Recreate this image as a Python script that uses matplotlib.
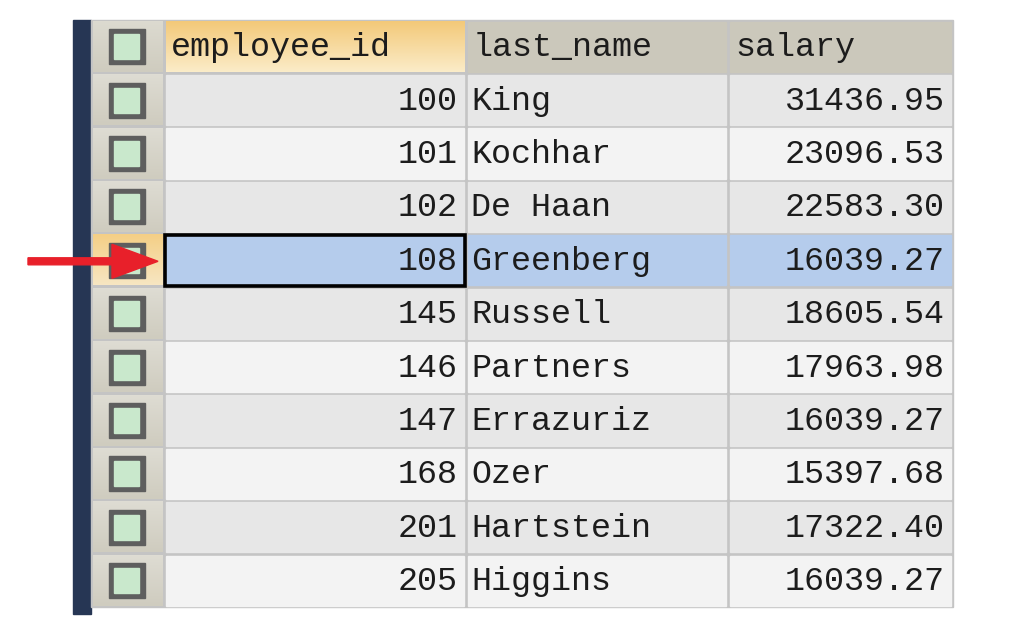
import matplotlib.pyplot as plt
from matplotlib.patches import Rectangle, FancyArrow
import numpy as np

# table data
columns = ["employee_id", "last_name", "salary"]
employee_ids = [100, 101, 102, 108, 145, 146, 147, 168, 201, 205]
last_names = ["King", "Kochhar", "De Haan", "Greenberg", "Russell",
              "Partners", "Errazuriz", "Ozer", "Hartstein", "Higgins"]
salaries = ["31436.95", "23096.53", "22583.30", "16039.27", "18605.54",
            "17963.98", "16039.27", "15397.68", "17322.40", "16039.27"]
selected_row = 3

# layout (pixel coords)
W, H = 1012, 634
col_edges = [91, 164, 466, 728, 953]
top, row_h = 20, 53.4
FONT = "Liberation Mono"
FS = 24

fig = plt.figure(figsize=(W / 100, H / 100), dpi=100)
ax = fig.add_axes([0, 0, 1, 1])
ax.set_xlim(0, W)
ax.set_ylim(H, 0)
ax.axis("off")

n_rows = len(employee_ids) + 1
bottom = top + n_rows * row_h

# left dark bar
ax.add_patch(Rectangle((73, top), 18, bottom - top + 7, color="#263654", zorder=1))
# grid background (grid line colour)
ax.add_patch(Rectangle((col_edges[0], top), col_edges[-1] - col_edges[0], bottom - top,
                       color="#c4c4c4", zorder=1))


def cell(x0, x1, y0, color, grad=None):
    pad = 1.6
    if grad is None:
        ax.add_patch(Rectangle((x0 + pad, y0 + pad), x1 - x0 - 2 * pad, row_h - 2 * pad,
                               color=color, zorder=2))
    else:
        g = np.linspace(0, 1, 50).reshape(-1, 1)
        c0 = np.array(plt.matplotlib.colors.to_rgb(grad[0]))
        c1 = np.array(plt.matplotlib.colors.to_rgb(grad[1]))
        img = c0 + (c1 - c0) * g[..., None]
        ax.imshow(img, extent=(x0 + pad, x1 - pad, y0 + row_h - pad, y0 + pad),
                  aspect="auto", zorder=2)


def checkbox(y0):
    cx, cy = 127, y0 + row_h / 2
    ax.add_patch(Rectangle((cx - 18, cy - 17.5), 36, 35, color="#5e5e5e", zorder=3))
    ax.add_patch(Rectangle((cx - 12.5, cy - 12.5), 25, 25, color="#c9e8cc", zorder=4))


# header
y0 = top
cell(col_edges[0], col_edges[1], y0, None, grad=("#dcdad0", "#cfccbf"))
checkbox(y0)
cell(col_edges[1], col_edges[2], y0, None, grad=("#f3c979", "#fbecc8"))
cell(col_edges[2], col_edges[3], y0, "#cbc8bb")
cell(col_edges[3], col_edges[4], y0, "#cbc8bb")
for i, name in enumerate(columns):
    ax.text(col_edges[i + 1] + 7, y0 + row_h / 2 + 1, name, family=FONT, fontsize=FS,
            color="#1c1c1c", va="center", ha="left", zorder=6)

# body rows
for r in range(len(employee_ids)):
    y0 = top + (r + 1) * row_h
    bg = "#e7e7e7" if r % 2 == 0 else "#f3f3f3"
    if r == selected_row:
        cell(col_edges[0], col_edges[1], y0, None, grad=("#f4cf86", "#f7e6c2"))
        cell(col_edges[1], col_edges[2], y0, "#b5ccec")
        cell(col_edges[2], col_edges[3], y0, "#b5ccec")
        cell(col_edges[3], col_edges[4], y0, "#b5ccec")
        ax.add_patch(Rectangle((col_edges[1] + 1, y0 + 1.5), col_edges[2] - col_edges[1] - 2,
                               row_h - 3, fill=False, ec="black", lw=2.6, zorder=5))
    else:
        cell(col_edges[0], col_edges[1], y0, None, grad=("#dedcd3", "#cfccbf"))
        for c in range(3):
            cell(col_edges[c + 1], col_edges[c + 2], y0, bg)
    checkbox(y0)
    yc = y0 + row_h / 2 + 1
    ax.text(col_edges[2] - 8, yc, str(employee_ids[r]), family=FONT, fontsize=FS,
            color="#1c1c1c", va="center", ha="right", zorder=6)
    ax.text(col_edges[2] + 5, yc, last_names[r], family=FONT, fontsize=FS,
            color="#1c1c1c", va="center", ha="left", zorder=6)
    ax.text(col_edges[4] - 8, yc, salaries[r], family=FONT, fontsize=FS,
            color="#1c1c1c", va="center", ha="right", zorder=6)

# red arrow pointing at selected row
ya = top + (selected_row + 1) * row_h + row_h / 2 + 1
ax.add_patch(FancyArrow(28, ya, 130, 0, width=7, head_width=34, head_length=46,
                        length_includes_head=True, color="#e8202a", zorder=7))

fig.savefig("out.png", dpi=100)
